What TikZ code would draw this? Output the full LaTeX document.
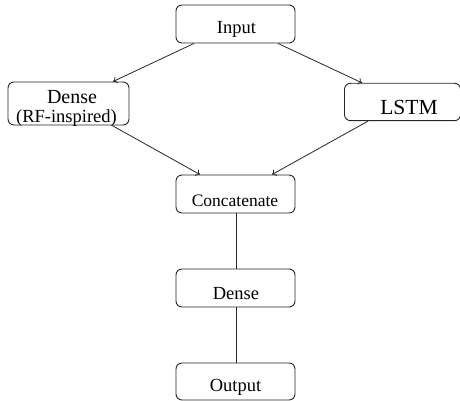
\documentclass[tikz,border=0pt]{standalone}
\usepackage{fontspec}
\setmainfont{Liberation Serif}
\usetikzlibrary{arrows.meta}
\tikzset{
  x=1pt,y=1pt,
  box/.style={draw=black!85, line width=0.9pt, rounded corners=6pt, inner sep=0pt, fill=none},
  lbl/.style={anchor=base, inner sep=0pt, text=black},
  arr/.style={draw=black!85, line width=0.8pt, -{To[length=4pt,width=7pt]}},
  lin/.style={draw=black!85, line width=0.9pt}
}
\newcommand{\fsa}{\fontsize{18.5}{18.5}\selectfont}
\begin{document}
\begin{tikzpicture}
\useasboundingbox (0,0) rectangle (460,401);
% boxes
\node[box, minimum width=119pt, minimum height=38pt] (in) at (235.5,377) {};
\node[box, minimum width=121pt, minimum height=43pt] (rf) at (68.5,297.5) {};
\node[box, minimum width=116pt, minimum height=37.4pt] (ls) at (402.5,299) {};
\node[box, minimum width=119pt, minimum height=38pt] (cc) at (235.5,207) {};
\node[box, minimum width=119pt, minimum height=38pt] (dn) at (235.5,113) {};
\node[box, minimum width=119pt, minimum height=37pt] (out) at (235.5,19.5) {};
% labels
\node[lbl, font=\fontsize{20}{20}\selectfont] (rfT1) at (72,297) {Dense};
\node[lbl, font=\fontsize{18.5}{18.5}\selectfont] (rfT2) at (66.5,278.5) {(RF-inspired)};
\node[lbl] (inT) at (236.5,367) {\fsa Input};
\node[lbl] (lsT) at (409,286.7) {\fontsize{21.5}{21.5}\selectfont LSTM};
\node[lbl] (ccT) at (235,194.3) {\fontsize{17.5}{17.5}\selectfont Concatenate};
\node[lbl] (dnT) at (236,101) {\fsa Dense};
\node[lbl] (outT) at (235.5,9.5) {\fsa Output};
% connectors
\draw[arr] ([xshift=-41.5pt]in.south) -- ([xshift=44.5pt]rf.north);
\draw[arr] ([xshift=42.5pt]in.south) -- ([xshift=-40.5pt]ls.north);
\draw[arr] ([xshift=43.5pt]rf.south) -- ([xshift=-35.5pt]cc.north);
\draw[arr] ([xshift=-34.5pt]ls.south) -- ([xshift=36.5pt]cc.north);
\draw[lin] ([xshift=0.5pt]cc.south) -- ([xshift=0.5pt]dn.north);
\draw[lin] ([xshift=0.5pt]dn.south) -- ([xshift=0.5pt]out.north);
\end{tikzpicture}
\end{document}
